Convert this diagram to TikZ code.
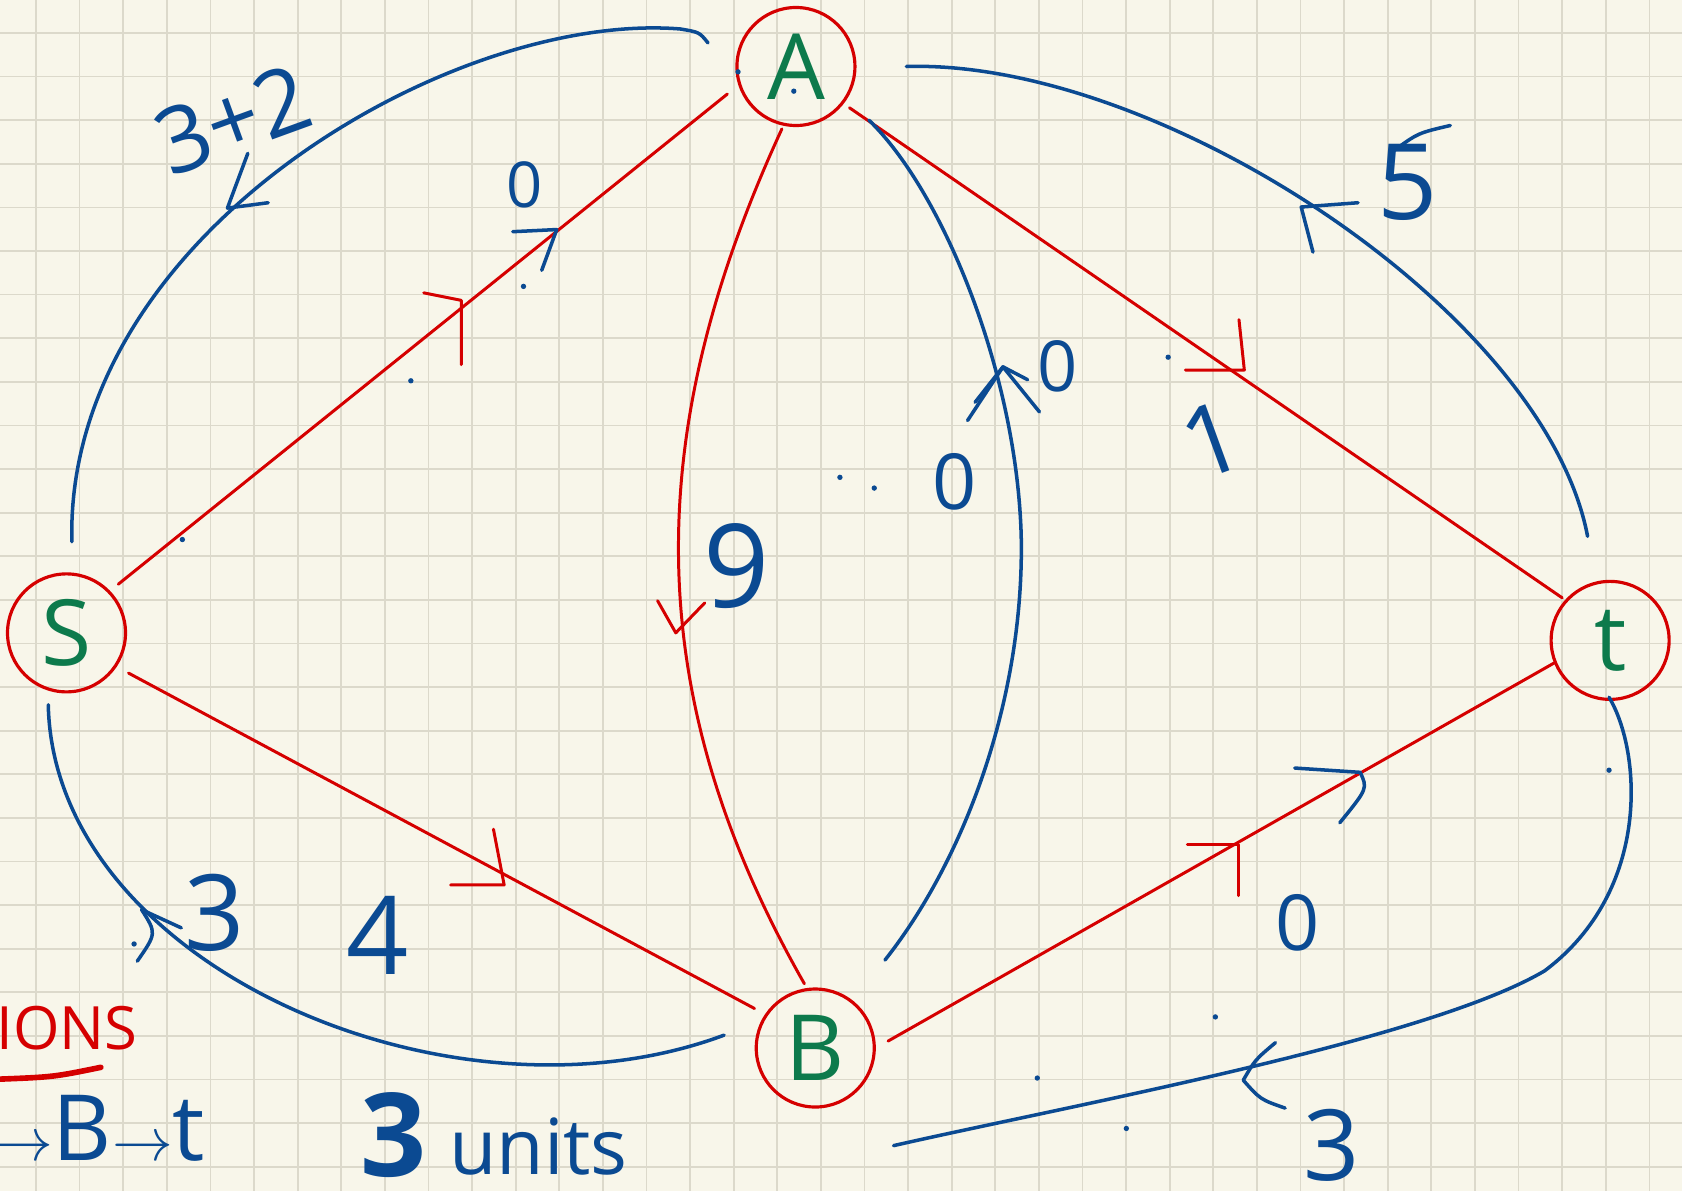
\documentclass[tikz,border=0pt]{standalone}
\usepackage{fontspec}
\setmainfont{Open Sans}
\usetikzlibrary{calc}
\definecolor{paper}{HTML}{F8F6EA}
\definecolor{gridline}{HTML}{DCD9CB}
\definecolor{pen}{HTML}{0B4A92}
\definecolor{ink}{HTML}{D50000}
\definecolor{leaf}{HTML}{0D7A4C}
\newcommand\penfs[1]{\fontsize{#1}{#1}\selectfont}

\begin{document}
\begin{tikzpicture}[x=0.010727cm,y=-0.010727cm]
  \tikzset{vertex/.style={circle,draw=ink,line width=0.9pt,minimum size=1.18cm,inner sep=0pt,text=leaf,font=\penfs{26}},
    redge/.style={draw=ink,line width=0.85pt,line cap=round,line join=round},
    flow/.style={draw=pen,line width=1pt,line cap=round,line join=round},
    lbl/.style={text=pen,inner sep=0pt}}
  \useasboundingbox (0,0) rectangle (1568,1110);
  \fill[paper] (0,0) rectangle (1568,1110);
  \foreach \k in {0,...,37} \draw[gridline,line width=0.5pt] (33.56+40.65*\k,0) -- (33.56+40.65*\k,1110);
  \foreach \k in {0,...,26} \draw[gridline,line width=0.5pt] (0,30.76+40.65*\k) -- (1568,30.76+40.65*\k);

  \node[vertex] (A) at (742,62) {A};
  \node[vertex] (S) at (62,590) {S};
  \node[vertex] (B) at (760,977) {B};
  \node[vertex] (t) at (1501,597) {t};

  \draw[redge,shorten <=3pt,shorten >=4pt] (S.44) -- (A.198);
  \draw[redge,shorten <=3.8pt,shorten >=3.4pt] (S.-34) -- (B.146);
  \draw[redge,shorten <=2pt,shorten >=1pt] (A.-38) -- (t.138);
  \draw[redge,shorten <=4pt] (B.0) -- (t.202);
  \draw[redge,shorten <=1pt,shorten >=1.4pt] (A.258) .. controls (598,404) and (596,647) .. (B.98);
  \draw[redge] (395,273) -- (430,280) -- (430,340);
  \draw[redge] (460,773) -- (470,825) -- (420,825);
  \draw[redge] (613,560) -- (630,590) -- (657,562);
  \draw[redge] (1155,298) -- (1160,345) -- (1105,345);
  \draw[redge] (1107,787) -- (1155,787) -- (1155,835);

  \draw[flow] ([shift={(-82,-22)}]A.center) .. controls (652,30) .. (634,27)
    .. controls (420,10) and (60,220) .. ([shift={(5,-85)}]S.center);
  \draw[flow] ([shift={(103,0)}]A.center) .. controls (1080,55) and (1440,290) .. ([shift={(-21,-97)}]t.center);
  \draw[flow] ([shift={(-17,67)}]S.center) .. controls (50,900) and (420,1060) .. ([shift={(-85,-12)}]B.center);
  \draw[flow] ([shift={(-1,53)}]t.center) .. controls (1530,700) and (1540,830) .. (1440,905)
    .. controls (1330,970) and (1000,1030) .. ([shift={(73,91)}]B.center);
  \draw[flow] ([shift={(65,-82)}]B.center) .. controls (900,800) and (955,650) .. (952,500)
    .. controls (948,350) and (880,180) .. ([shift={(68,50)}]A.center);

  \draw[flow] (231,143) -- (212,194) -- (250,189);
  \draw[flow] (1266,189) -- (1213,193) -- (1224,235);
  \draw[flow] (169,865) -- (132,848) .. controls (146,870) .. (128,896);
  \draw[flow] (1189,972) .. controls (1170,988) .. (1159,1007) .. controls (1175,1025) .. (1198,1033);
  \draw[flow] (902,392) -- (935,342) -- (969,384);
  \draw[flow] (909,375) -- (935,342) -- (958,354);
  \draw[flow] (478,216) -- (519,214) -- (505,252);
  \draw[flow] (1207,716) -- (1268,720) .. controls (1275,735) .. (1249,767);
  \draw[flow] (1300,140) .. controls (1322,124) .. (1352,117);

  \node[lbl,rotate=20,font=\penfs{26}] (sa) at (217,112) {3+2};
  \node[lbl,font=\penfs{30}] (at) at (1312,170) {5};
  \node[lbl,font=\penfs{30}] (sb) at (200,851) {3};
  \node[lbl,font=\penfs{31}] (cap sb) at (352,872) {4};
  \node[lbl,font=\penfs{28}] (tb) at (1241,1068) {3};
  \node[lbl,font=\penfs{18}] (cap sa) at (489,172) {0};
  \node[lbl,font=\penfs{20}] (ba) at (986,342) {0};
  \node[lbl,font=\penfs{22}] (cap ba) at (890,449) {0};
  \node[lbl,font=\penfs{33}] (cap ab) at (687,528) {9};
  \node[lbl,rotate=20,font=\penfs{28}] (cap at) at (1130,410) {1};
  \node[lbl,font=\penfs{22}] (cap bt) at (1210,860) {0};

  \foreach \p in {(383,355),(488,267),(170,503),(783,445),(815,455),(1133,948),(967,1005),(1050,1052),(1500,718),(125,880),(688,67),(740,85),(1089,333)}
    \fill[pen] \p circle (2.5);

  \node[text=ink,anchor=west,inner sep=0pt,font=\penfs{17}] (title) at (-4,958) {IONS};
  \draw[ink,line width=1.6pt,line cap=round] (0,1006) .. controls (50,1004) .. (94,995);
  \node[lbl,anchor=base west,font=\penfs{26}] (path) at (-8,1082) {{\penfs{18}$\rightarrow$}B{\penfs{18}$\rightarrow$}t};
  \node[lbl,font=\penfs{33}\bfseries] (flowval) at (367,1058) {3};
  \node[lbl,anchor=base west,font=\penfs{22}] (unit) at (418,1095) {units};
\end{tikzpicture}
\end{document}
